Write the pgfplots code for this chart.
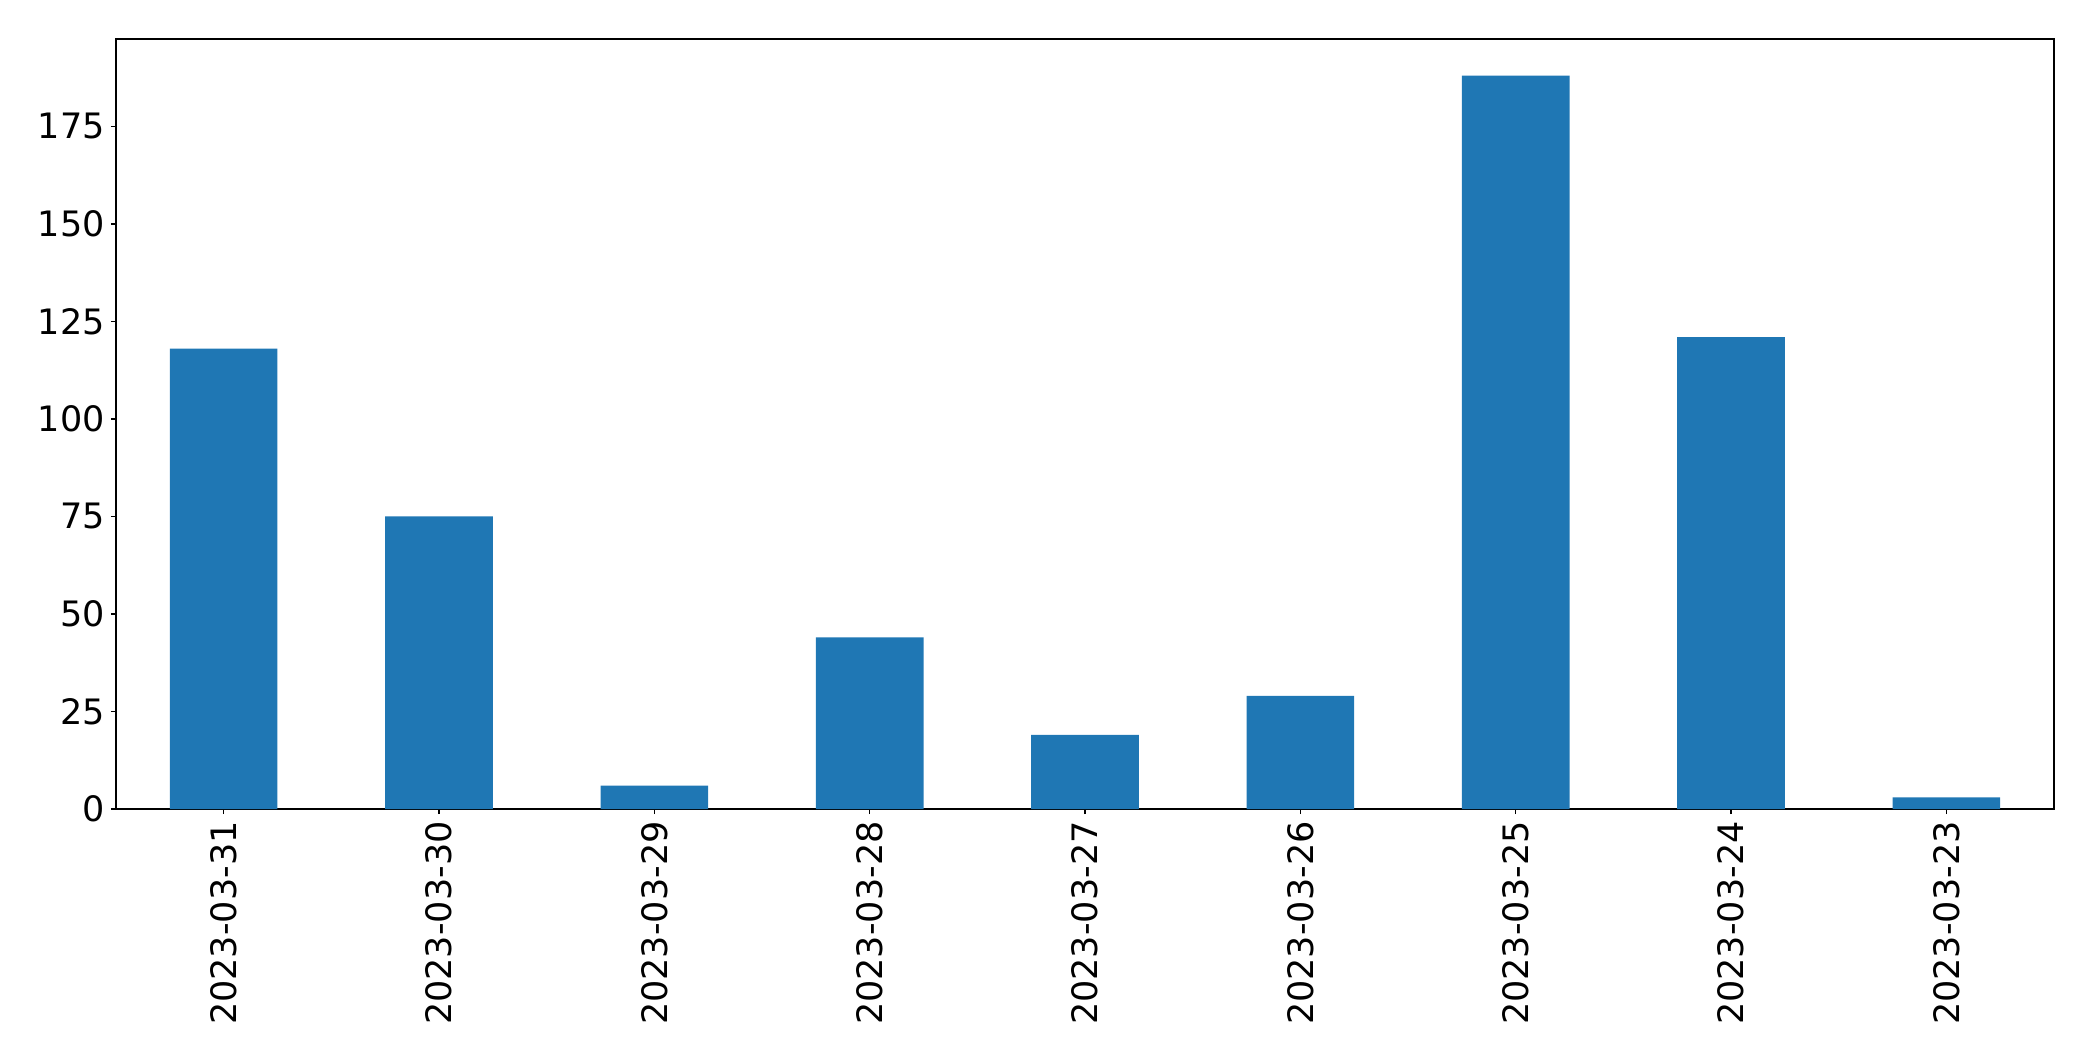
\documentclass[border=0pt]{standalone}
\usepackage{fontspec}
\setmainfont{DejaVu Sans}
\usepackage{pgfplots}
\pgfplotsset{compat=1.18}
\definecolor{mplblue}{HTML}{1F77B4}

\begin{document}
\begin{tikzpicture}
\useasboundingbox (-58pt,-126pt) rectangle (988.5pt,404.5pt);
\begin{axis}[
    at={(0pt,0pt)}, anchor=south west,
    scale only axis,
    width=969pt, height=385pt,
    ybar, bar width=0.5, bar shift=0pt,
    xmin=-0.5, xmax=8.5,
    ymin=0, ymax=197.4,
    xtick={0,...,8},
    xticklabels={2023-03-31,2023-03-30,2023-03-29,2023-03-28,2023-03-27,2023-03-26,2023-03-25,2023-03-24,2023-03-23},
    ytick={0,25,50,75,100,125,150,175},
    tick align=outside, tick pos=left,
    major tick length=2.5pt,
    axis line style={line width=0.7pt},
    every tick/.style={black, line width=0.7pt},
    tick label style={font=\fontsize{17.5}{21}\selectfont},
    /pgf/number format/assume math mode=true,
    xticklabel style={rotate=90, anchor=east, inner sep=3.5pt},
    yticklabel style={inner sep=3pt},
]
\addplot[fill=mplblue, draw=none] coordinates {
    (0,118) (1,75) (2,6) (3,44) (4,19) (5,29) (6,188) (7,121) (8,3)
};
\end{axis}
\end{tikzpicture}
\end{document}
